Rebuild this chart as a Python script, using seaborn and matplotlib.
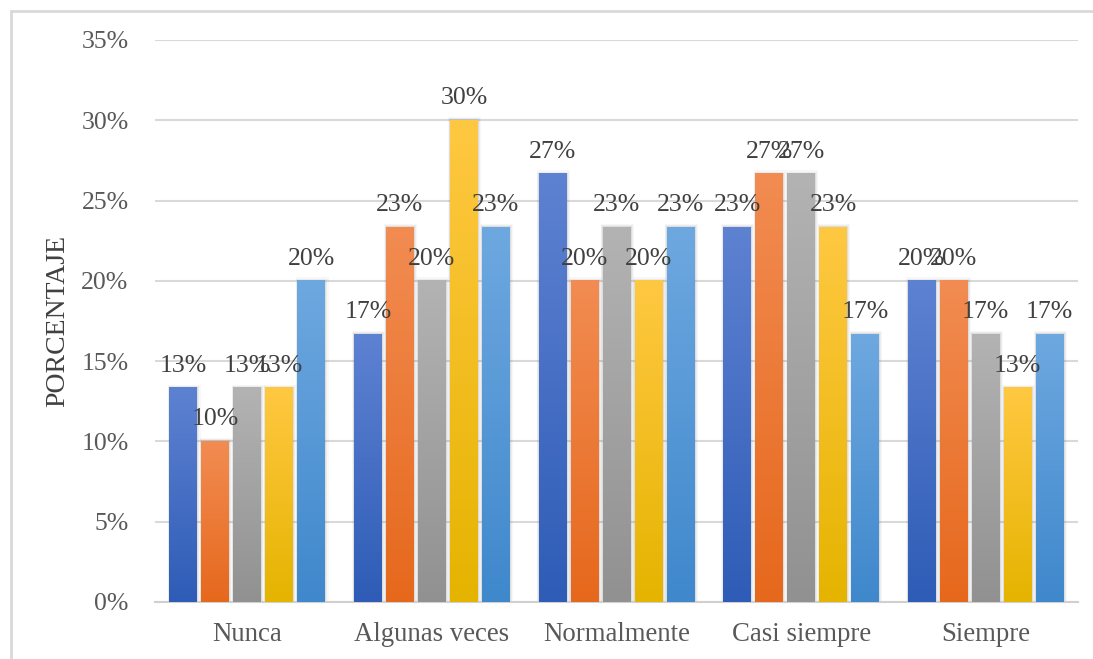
import numpy as np
import pandas as pd
import matplotlib
matplotlib.use("Agg")
import matplotlib.pyplot as plt
import matplotlib.colors as mcolors
from matplotlib.patches import Rectangle
from matplotlib.lines import Line2D
import seaborn as sns

categories = ["Nunca", "Algunas veces", "Normalmente", "Casi siempre", "Siempre"]
series = ["Serie 1", "Serie 2", "Serie 3", "Serie 4", "Serie 5"]
serie1 = [13.33, 16.67, 26.67, 23.33, 20.00]
serie2 = [10.00, 23.33, 20.00, 26.67, 20.00]
serie3 = [13.33, 20.00, 23.33, 26.67, 16.67]
serie4 = [13.33, 30.00, 20.00, 23.33, 13.33]
serie5 = [20.00, 23.33, 23.33, 16.67, 16.67]
yticks = [0, 5, 10, 15, 20, 25, 30, 35]

top_colors = ["#5E82D2", "#F28C52", "#B3B3B3", "#FFC842", "#6EA8E0"]
bottom_colors = ["#2E5CB6", "#E6681C", "#919191", "#E5B400", "#3F88CC"]

values = [serie1, serie2, serie3, serie4, serie5]
rows = []
for s, vals in zip(series, values):
    for c, v in zip(categories, vals):
        rows.append({"categoria": c, "serie": s, "valor": v})
df = pd.DataFrame(rows)

sns.set_theme(style="white")
plt.rcParams["font.family"] = ["Liberation Serif", "DejaVu Serif"]

fig = plt.figure(figsize=(10.93, 6.59), dpi=100)
ax = fig.add_axes([155/1093, 1 - 602/659, (1078 - 155)/1093, (602 - 40)/659])

palette = dict(zip(series, [mcolors.to_hex(c) for c in bottom_colors]))
sns.barplot(data=df, x="categoria", y="valor", hue="serie", order=categories,
            hue_order=series, palette=palette, width=0.867, gap=0.13,
            legend=False, ax=ax, zorder=3)

ax.set_ylim(0, 35)
ax.set_xlim(-0.5, 4.5)

patches = [p for p in ax.patches if isinstance(p, Rectangle) and p.get_height() > 0]
n_cat = len(categories)
for idx, p in enumerate(patches):
    si = idx // n_cat
    x0, w, h = p.get_x(), p.get_width(), p.get_height()
    top = np.array(mcolors.to_rgb(top_colors[si]))
    bot = np.array(mcolors.to_rgb(bottom_colors[si]))
    t = np.linspace(0, 1, 256)[:, None]
    grad = (bot * (1 - t) + top * t)[:, None, :]
    grad = np.repeat(grad, 2, axis=1)
    for k, a in enumerate([0.12, 0.08, 0.05]):
        dx = 0.005 * (k + 1)
        ax.add_patch(Rectangle((x0 - dx * 0.6, 0), w + dx * 1.8, h + 0.07 * (k + 1),
                               facecolor="#707070", edgecolor="none",
                               alpha=a, zorder=2))
    ax.imshow(grad, extent=(x0, x0 + w, 0, h), origin="lower",
              aspect="auto", zorder=3.5, interpolation="bilinear")
    p.set_visible(False)
    ax.annotate(f"{h:.0f}%", (x0 + w / 2, h), xytext=(0, 8),
                textcoords="offset points", ha="center", va="bottom",
                fontsize=18.5, color="#404040", zorder=5)

ax.set_xlim(-0.5, 4.5)
ax.set_ylim(0, 35)
ax.set_aspect("auto")

ax.set_yticks(yticks)
ax.set_yticklabels([f"{v}%" for v in yticks])
ax.tick_params(axis="y", labelsize=18.5, colors="#595959", length=0, pad=19)
ax.tick_params(axis="x", labelsize=19.3, colors="#595959", length=0, pad=14.5)
ax.yaxis.grid(True, color="#D9D9D9", linewidth=1.5, zorder=0)
ax.set_axisbelow(True)
for s in ["top", "right", "left"]:
    ax.spines[s].set_visible(False)
ax.spines["bottom"].set_color("#D0D0D0")
ax.spines["bottom"].set_linewidth(1.5)
ax.set_xlabel("")
ax.set_ylabel("PORCENTAJE", fontsize=20, color="#404040", labelpad=8)

# outer frame (top and left edges)
fx = 10.5 / 1093
fy = 1 - 10.5 / 659
fig.add_artist(Line2D([fx, 1], [fy, fy], transform=fig.transFigure,
                      color="#D9D9D9", linewidth=2))
fig.add_artist(Line2D([fx, fx], [0, fy], transform=fig.transFigure,
                      color="#D9D9D9", linewidth=2))

fig.savefig("out.png", dpi=100)
